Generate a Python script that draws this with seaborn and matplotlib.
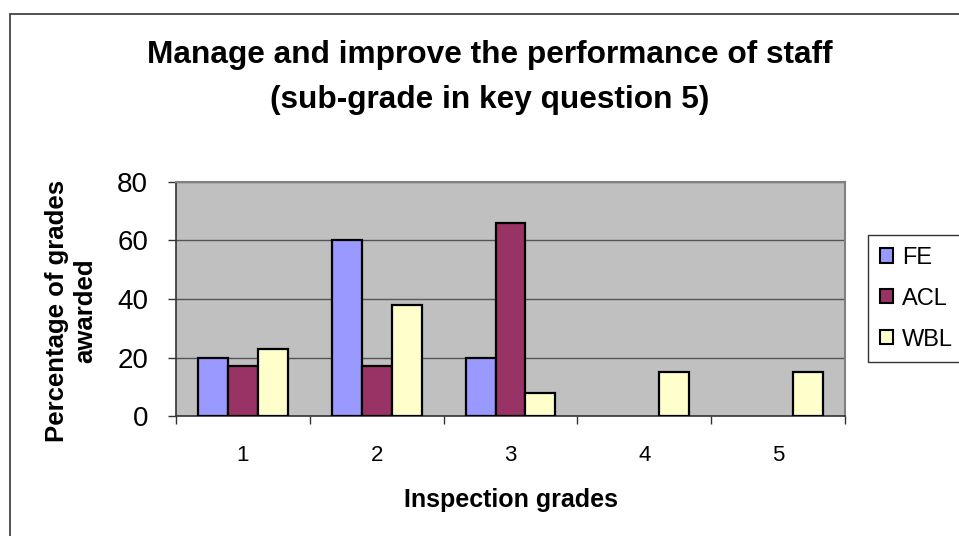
import matplotlib
matplotlib.use("Agg")
import matplotlib.pyplot as plt
import seaborn as sns
import pandas as pd
from matplotlib.patches import Rectangle

categories = ["1", "2", "3", "4", "5"]
series_names = ["FE", "ACL", "WBL"]
fe = [20, 60, 20, 0, 0]
acl = [17, 17, 66, 0, 0]
wbl = [23, 38, 8, 15, 15]
colors = ["#9999FF", "#993366", "#FFFFCC"]
yticks = [0, 20, 40, 60, 80]

rows = []
for name, vals in zip(series_names, [fe, acl, wbl]):
    for c, v in zip(categories, vals):
        rows.append({"grade": c, "series": name, "value": v})
df = pd.DataFrame(rows)

sns.set_style("white")
plt.rcParams["font.family"] = ["Liberation Sans", "DejaVu Sans"]
plt.rcParams["text.color"] = "black"
plt.rcParams["axes.labelcolor"] = "black"
plt.rcParams["xtick.color"] = "black"
plt.rcParams["ytick.color"] = "black"

fig = plt.figure(figsize=(9.59, 5.36), dpi=100)
# outer chart border
fig.patches.append(Rectangle((10 / 959, 1 - 14 / 536 - 600 / 536), 1.2, 600 / 536,
                             transform=fig.transFigure, fill=False,
                             edgecolor="#333333", linewidth=1.2))

ax = fig.add_axes([176 / 959, 1 - 416 / 536, (845 - 176) / 959, (416 - 182) / 536])
ax.set_facecolor("#C0C0C0")
sns.barplot(data=df, x="grade", y="value", hue="series", order=categories,
            hue_order=series_names, palette=colors, saturation=1, width=0.67,
            edgecolor="black", linewidth=1.6, ax=ax, legend=True, zorder=3)

ax.set_ylim(0, 80)
ax.set_xlim(-0.5, 4.5)
ax.set_yticks(yticks)
ax.yaxis.grid(True, color="#555555", linewidth=1.0, zorder=0)
ax.set_axisbelow(True)
ax.tick_params(axis="y", labelsize=20, length=6, width=1, direction="out",
               color="#333333", pad=14, left=True, labelcolor="black")
ax.set_xticks(range(len(categories)))
ax.set_xticklabels(categories)
ax.tick_params(axis="x", which="major", length=0, labelsize=16, pad=21,
               labelcolor="black")
ax.set_xticks([i - 0.5 for i in range(len(categories) + 1)], minor=True)
ax.tick_params(axis="x", which="minor", length=6, width=1, color="#333333",
               direction="out", bottom=True)
for s in ["top", "right"]:
    ax.spines[s].set_color("#808080")
    ax.spines[s].set_linewidth(1.5)
for s in ["left", "bottom"]:
    ax.spines[s].set_color("#333333")
    ax.spines[s].set_linewidth(1.2)

ax.set_xlabel("Inspection grades", fontsize=18, fontweight="bold")
ax.xaxis.set_label_coords(0.5, (416 - 488) / 234)
ax.set_ylabel("Percentage of grades\nawarded", fontsize=18.5, fontweight="bold",
              linespacing=1.2)
ax.yaxis.set_label_coords((97 - 176) / 669, (416 - 311) / 234)

fig.text(490 / 959, 1 - 55 / 536, "Manage and improve the performance of staff",
         ha="center", va="center", fontsize=22.8, fontweight="bold")
fig.text(490 / 959, 1 - 100 / 536, "(sub-grade in key question 5)",
         ha="center", va="center", fontsize=22.8, fontweight="bold")

leg = ax.legend(loc="upper left", bbox_to_anchor=(868 / 959, 1 - 235 / 536),
                bbox_transform=fig.transFigure, frameon=True, fancybox=False,
                fontsize=17, handlelength=0.55, handleheight=0.55,
                handletextpad=0.4, labelspacing=0.8, borderpad=0.5,
                borderaxespad=0, edgecolor="#333333", framealpha=1)
leg.get_frame().set_linewidth(1.0)
for h, c in zip(leg.legend_handles, colors):
    h.set_visible(True)
    h.set_facecolor(c)
    h.set_edgecolor("black")
    h.set_linewidth(1.5)

# zero-valued bars are not shown in the reference
for p in ax.patches:
    if p.get_height() == 0:
        p.set_visible(False)

fig.savefig("out.png", dpi=100)
